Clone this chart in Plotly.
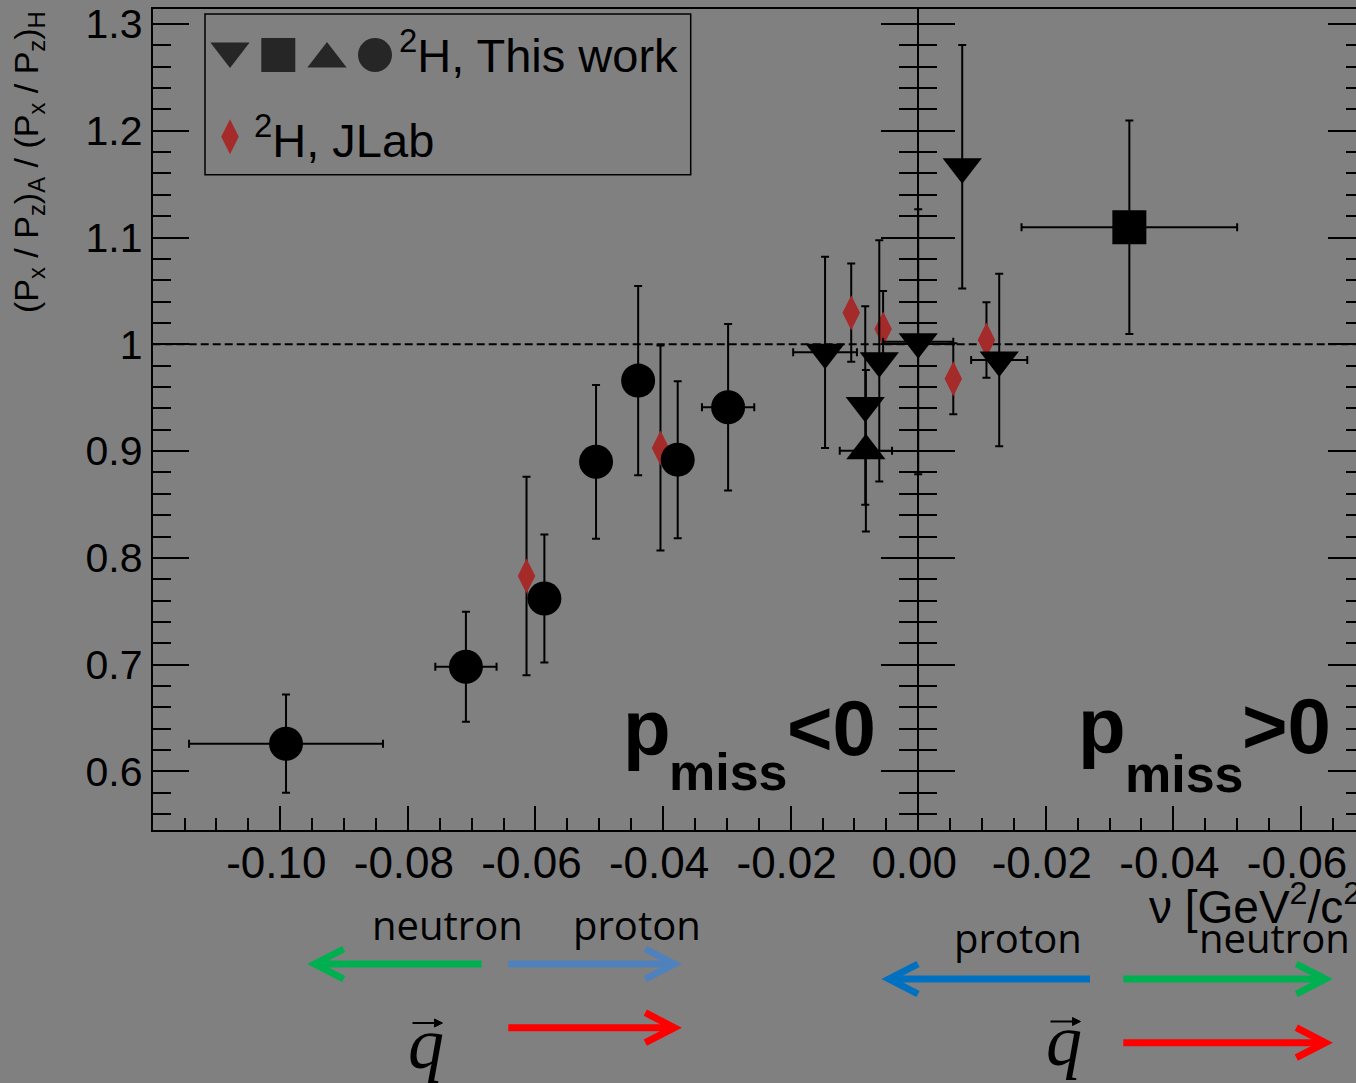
import plotly.graph_objects as go

# ---------------------------------------------------------------- data
# nu along the horizontal axis (right half is the p_miss > 0 branch)
# ● 2H, this work
nu_circle = [-0.0991, -0.0709, -0.0586, -0.0505, -0.0439, -0.0377, -0.0298]
ratio_circle = [0.626, 0.698, 0.762, 0.890, 0.966, 0.892, 0.941]
err_circle = [0.046, 0.0515, 0.060, 0.072, 0.0885, 0.0735, 0.078]
xerr_circle = [0.0152, 0.0048, 0.0, 0.0, 0.0, 0.0, 0.0041]

# ▼ 2H, this work
nu_tri_down = [-0.0146, -0.0083, -0.0061, 0.0000, 0.0069, 0.0127]
ratio_tri_down = [0.9925, 0.9427, 0.9845, 1.0024, 1.1663, 0.9853]
err_tri_down = [0.0896, 0.0930, 0.1130, 0.1240, 0.1140, 0.0807]
xerr_tri_down = [0.0050, 0.0, 0.0, 0.0055, 0.0, 0.0044]

# ▲ 2H, this work
nu_tri_up = [-0.0082]
ratio_tri_up = [0.9004]
err_tri_up = [0.0756]
xerr_tri_up = [0.0041]

# ■ 2H, this work
nu_square = [0.0331]
ratio_square = [1.1096]
err_square = [0.0999]
xerr_square = [0.0169]

# ♦ 2H, JLab
nu_jlab = [-0.0614, -0.0404, -0.0105, -0.0055, 0.0055, 0.0107]
ratio_jlab = [0.783, 0.903, 1.0296, 1.0143, 0.9678, 1.004]
err_jlab = [0.093, 0.096, 0.046, 0.0356, 0.0333, 0.0353]

# tick labels (the right half counts nu again from zero)
x_tick_vals = [-0.10, -0.08, -0.06, -0.04, -0.02, 0.00, 0.02, 0.04, 0.06]
x_tick_text = ["-0.10", "-0.08", "-0.06", "-0.04", "-0.02", "0.00", "-0.02", "-0.04", "-0.06"]
y_tick_vals = [0.6, 0.7, 0.8, 0.9, 1.0, 1.1, 1.2, 1.3]
y_tick_text = ["0.6", "0.7", "0.8", "0.9", "1", "1.1", "1.2", "1.3"]

# ---------------------------------------------------------------- layout constants
W, H = 1356, 1083
BG = "#808080"
ROOT_FONT = "Liberation Sans, Arial, sans-serif"
NOTE_FONT = "Open Sans, sans-serif"
SERIF = "Liberation Serif, Times New Roman, serif"

PL, PR, PT, PB = 152.7, 1356.0, 9.3, 830.0     # frame edges in px
X_MIN = -0.12
X_ZERO_PX = 918.2
X_SCALE = (X_ZERO_PX - PL) / (0.0 - X_MIN)
X_MAX = (PR - X_ZERO_PX) / X_SCALE
Y_MIN, Y_MAX = 0.5452, 1.3137

JLAB_RED = "#a52a2a"

fig = go.Figure()

err_style = dict(type="data", color="black", thickness=2, width=4)


def points(nu, ratio, err, xerr, symbol, size, color="black"):
    ey = dict(err_style, array=err)
    ex = dict(err_style, array=xerr) if xerr is not None else None
    fig.add_trace(go.Scatter(
        x=nu, y=ratio, mode="markers",
        marker=dict(symbol=symbol, size=size, color=color, line=dict(width=0)),
        error_y=ey, error_x=ex, showlegend=False, hoverinfo="skip",
    ))


points(nu_jlab, ratio_jlab, err_jlab, None, "diamond-tall", 25, JLAB_RED)
points(nu_circle, ratio_circle, err_circle, xerr_circle, "circle", 34)
points(nu_tri_up, ratio_tri_up, err_tri_up, xerr_tri_up, "triangle-up", 34)
points(nu_tri_down, ratio_tri_down, err_tri_down, xerr_tri_down, "triangle-down", 34)
points(nu_square, ratio_square, err_square, xerr_square, "square", 34)

# empty traces so the extra tick axes get drawn
for ya in ("y3", "y4", "y5"):
    fig.add_trace(go.Scatter(x=[None], y=[None], xaxis="x", yaxis=ya,
                             showlegend=False, hoverinfo="skip"))

# ---------------------------------------------------------------- pixel overlay (legend, notes)
legend_syms = ["triangle-down", "square", "triangle-up", "circle"]
legend_x = [230.0, 278.3, 327.0, 375.0]
legend_y = [51.0, 55.0, 59.0, 55.0]
legend_size = [34, 34, 34, 34]
fig.add_trace(go.Scatter(
    x=legend_x, y=legend_y, xaxis="x2", yaxis="y2", mode="markers",
    marker=dict(symbol=legend_syms, size=legend_size, color="black", line=dict(width=0)),
    showlegend=False, hoverinfo="skip", cliponaxis=False,
))
fig.add_trace(go.Scatter(
    x=[230.0], y=[136.7], xaxis="x2", yaxis="y2", mode="markers",
    marker=dict(symbol="diamond-tall", size=25, color=JLAB_RED, line=dict(width=0)),
    showlegend=False, hoverinfo="skip", cliponaxis=False,
))

shapes = []
annotations = []

# legend frame
shapes.append(dict(type="rect", xref="x2", yref="y2", x0=205, x1=690.7, y0=14, y1=174.7,
                   line=dict(color="black", width=1.5), fillcolor="rgba(0,0,0,0)"))

# reference line at ratio = 1
shapes.append(dict(type="line", xref="x domain", yref="y", x0=0, x1=1, y0=1.0, y1=1.0,
                   line=dict(color="black", width=2, dash="8px,4px"), layer="below"))


def text(s, x, y, size, family=ROOT_FONT, xanchor="center", yanchor="middle", angle=0):
    annotations.append(dict(text=s, x=x, y=y, xref="x2", yref="y2", showarrow=False,
                            xanchor=xanchor, yanchor=yanchor, textangle=angle,
                            font=dict(family=family, size=size, color="black")))


def arrow(x_tail, x_tip, y, color, width=7):
    d = 1 if x_tip > x_tail else -1
    tip = x_tip - d * 4
    shapes.append(dict(type="line", xref="x2", yref="y2", x0=x_tail, x1=tip, y0=y, y1=y,
                       line=dict(color=color, width=width)))
    path = f"M{tip - d * 29},{y - 15} L{tip},{y} L{tip - d * 29},{y + 15}"
    shapes.append(dict(type="path", xref="x2", yref="y2", path=path,
                       line=dict(color=color, width=width)))


def vec_q(x_center, baseline, bar_y):
    text("<i>q</i>", x_center, baseline - 24.3, 72, SERIF)
    shapes.append(dict(type="line", xref="x2", yref="y2", x0=x_center - 13, x1=x_center + 14,
                       y0=bar_y, y1=bar_y, line=dict(color="black", width=2)))
    shapes.append(dict(type="path", xref="x2", yref="y2",
                       path=f"M{x_center + 9},{bar_y - 4} L{x_center + 17},{bar_y} L{x_center + 9},{bar_y + 4} Z",
                       fillcolor="black", line=dict(color="black", width=1)))


# legend entries
text("<sup>2</sup>H, This work", 397, 52.0, 47, xanchor="left")
text("<sup>2</sup>H, JLab", 252, 136.5, 47, xanchor="left")

# axis titles
text("(P<sub>x</sub> / P<sub>z</sub>)<sub>A</sub> / (P<sub>x</sub> / P<sub>z</sub>)<sub>H</sub>",
     28, 162, 34, angle=-90)
text("\u03bd [GeV<sup>2</sup>/c<sup>2</sup>]", 1147, 904, 46, xanchor="left")

# p_miss region labels
for (px, mx, rx, rel, base, sub_base) in [(647.4, 728.4, 831.7, "&lt;0", 755, 790),
                                            (1102.4, 1184.2, 1286.7, "&gt;0", 753, 791.7)]:
    text("<b>p</b>", px, base - 27, 78)
    text("<b>miss</b>", mx, sub_base - 18, 52)
    text(f"<b>{rel}</b>", rx, base - 27, 78)

# direction sketch below the axis
text("neutron", 447.5, 924.5, 40, NOTE_FONT)
text("proton", 636.7, 924.5, 40, NOTE_FONT)
text("proton", 1017.5, 937.8, 40, NOTE_FONT)
text("neutron", 1196.7, 937.8, 40, NOTE_FONT, xanchor="left")

arrow(481.7, 310.7, 964, "#00b050")
arrow(508.3, 678.3, 964, "#4f81bd")
arrow(508.3, 678.3, 1027.7, "#ff0000")
arrow(1090.0, 885.0, 979, "#0070c0")
arrow(1123.3, 1329.3, 979, "#00b050")
arrow(1123.3, 1329.3, 1042.7, "#ff0000")

vec_q(425.5, 1068, 1023)
vec_q(1063.5, 1065, 1021.5)

# ---------------------------------------------------------------- axes
x_tick_font = dict(family=ROOT_FONT, size=44, color="black")
y_tick_font = dict(family=ROOT_FONT, size=41, color="black")
x_dom = [PL / W, 1.0]
y_dom = [1 - PB / H, 1 - PT / H]
p_zero = X_ZERO_PX / W


def tick_axis(**kw):
    base = dict(range=[Y_MIN, Y_MAX], overlaying="y", anchor="free", showgrid=False,
                zeroline=False, showticklabels=False, tickmode="linear", tick0=0, dtick=0.1,
                tickwidth=2, tickcolor="black", linecolor="black", linewidth=2,
                fixedrange=True)
    base.update(kw)
    return base


fig.update_layout(
    width=W, height=H, margin=dict(l=0, r=0, t=0, b=0),
    paper_bgcolor=BG, plot_bgcolor="rgba(0,0,0,0)", showlegend=False,
    xaxis=dict(domain=x_dom, range=[X_MIN, X_MAX], anchor="y",
               showline=True, linecolor="black", linewidth=2, mirror=True,
               ticks="inside", ticklen=24, tickwidth=2, tickcolor="black",
               tickmode="array", tickvals=x_tick_vals, ticktext=x_tick_text,
               tickfont=x_tick_font, ticklabelstandoff=-7, ticklabelshift=-4,
               showgrid=False, zeroline=False, automargin=False,
               minor=dict(tickmode="linear", tick0=0, dtick=0.005, ticks="inside",
                          ticklen=12, tickwidth=2, tickcolor="black"),
               fixedrange=True),
    yaxis=dict(domain=y_dom, range=[Y_MIN, Y_MAX], anchor="x",
               showline=True, linecolor="black", linewidth=2,
               ticks="inside", ticklen=36, tickwidth=2, tickcolor="black",
               tickmode="array", tickvals=y_tick_vals, ticktext=y_tick_text,
               tickfont=y_tick_font, showgrid=False, zeroline=False, automargin=False,
               minor=dict(tickmode="linear", tick0=0, dtick=0.02, ticks="inside",
                          ticklen=18, tickwidth=2, tickcolor="black"),
               fixedrange=True),
    yaxis3=tick_axis(side="right", position=1.0, ticks="inside", ticklen=28, showline=False,
                     minor=dict(tickmode="linear", tick0=0, dtick=0.02, ticks="inside",
                                ticklen=10, tickwidth=2, tickcolor="black")),
    yaxis4=tick_axis(side="left", position=p_zero, ticks="outside", ticklen=36, showline=True,
                     minor=dict(tickmode="linear", tick0=0, dtick=0.02, ticks="outside",
                                ticklen=18, tickwidth=2, tickcolor="black")),
    yaxis5=tick_axis(side="left", position=p_zero, ticks="inside", ticklen=36, showline=False,
                     minor=dict(tickmode="linear", tick0=0, dtick=0.02, ticks="inside",
                                ticklen=18, tickwidth=2, tickcolor="black")),
    xaxis2=dict(domain=[0, 1], range=[0, W], anchor="y2", visible=False, fixedrange=True),
    yaxis2=dict(domain=[0, 1], range=[H, 0], anchor="x2", visible=False, fixedrange=True),
    shapes=shapes,
    annotations=annotations,
)

fig.write_html("out.html")
